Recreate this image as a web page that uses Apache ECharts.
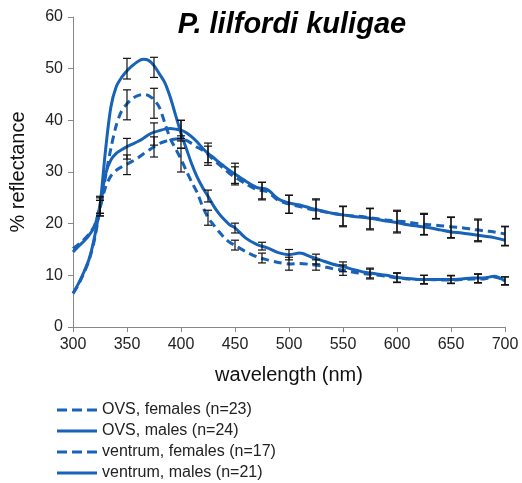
<!DOCTYPE html>
<html>
<head>
<meta charset="utf-8">
<script src="https://cdn.jsdelivr.net/npm/echarts@6/dist/echarts.min.js"></script>
<style>
  html, body { margin: 0; padding: 0; background: #fff; }
  #chart { width: 522px; height: 483px; }
</style>
</head>
<body>
<div id="chart"></div>
<script>
// wavelength (nm)
const wavelengths = [
  300, 305, 310, 315, 320, 325, 330, 335, 340, 345, 350, 355, 360, 365, 370, 375,
  380, 385, 390, 395, 400, 405, 410, 415, 420, 425, 430, 435, 440, 445, 450,
  460, 470, 480, 490, 500, 510, 520, 530, 540, 550, 560, 570, 580, 590, 600,
  610, 620, 630, 640, 650, 660, 670, 680, 690, 700
];

const ovsFemales = [
  6.5, 8.2, 10.4, 13, 17, 23, 29, 34.5, 39, 41.8, 43.2, 44.2, 44.8, 45, 44.8, 44,
  42.5, 39.5, 36.5, 34.5, 32.5, 30.2, 28, 26, 23.3, 21.2, 19.8, 18.5, 17.3, 16.4, 15.8,
  14.6, 13.6, 13, 12.5, 12.2, 12.3, 12.1, 11.8, 11.3, 11, 10.6, 10.3, 10.1, 9.8, 9.5,
  9.3, 9.2, 9.2, 9.1, 9.1, 9.2, 9.3, 9.3, 9.7, 9.0
];
const ovsMales = [
  6.5, 8.4, 10.6, 13.2, 17.5, 23.5, 34, 42.5, 46.5, 48.3, 49.6, 50.6, 51.4, 51.8, 51.6, 50.6,
  49, 47.3, 44.5, 41, 37.5, 34.5, 31.5, 29, 27, 25.3, 23.5, 22, 20.8, 19.8, 19.2,
  17.2, 16, 15.3, 14.4, 14, 14.3, 13.6, 12.9, 12.2, 11.7, 11.1, 10.6, 10.3, 10, 9.6,
  9.4, 9.2, 9.2, 9.2, 9.2, 9.3, 9.5, 9.5, 9.8, 8.9
];
const ventrumFemales = [
  15.2, 16, 16.9, 18, 19.7, 23, 27, 29.2, 30.3, 31, 31.5, 32.1, 32.7, 33.5, 34.2, 34.9,
  35.5, 35.9, 36.2, 36.4, 36.4, 36.1, 35.5, 34.8, 34.2, 33.4, 32.4, 31.5, 30.6, 29.7, 29,
  27.7, 26.6, 26.2, 24.5, 23.8, 23.3, 22.8, 22.4, 22, 21.7, 21.5, 21.3, 21, 20.7, 20.5,
  20.3, 20, 19.8, 19.6, 19.4, 19.2, 18.9, 18.6, 18.4, 18
];
const ventrumMales = [
  14.5, 15.6, 16.6, 17.8, 19.5, 23.5, 29.5, 32.3, 33.6, 34.3, 34.9, 35.4, 35.9, 36.5, 37.2, 37.7,
  38, 38.3, 38.4, 38.3, 38.1, 37.6, 36.8, 35.8, 34.6, 33.6, 32.8, 31.9, 31.1, 30.3, 29.6,
  28.2, 27, 26.6, 24.8, 24, 23.6, 23, 22.5, 22, 21.7, 21.4, 21.2, 20.9, 20.5, 20.2,
  19.8, 19.5, 19.2, 18.8, 18.4, 18.2, 17.9, 17.6, 17.3, 16.8
];

// error bars every 25 nm: lower / upper ends
const errWavelengths = [325, 350, 375, 400, 425, 450, 475, 500, 525, 550, 575, 600, 625, 650, 675, 700];
const ovsFemalesLow  = [21.5, 40.1, 40.4, 30, 19.7, 14.9, 12.4, 11, 11, 10, 9.3, 8.6, 8.3, 8.4, 8.5, 8.2];
const ovsFemalesHigh = [24.5, 45.9, 46.2, 34.6, 22.6, 16.8, 14.3, 13.5, 13, 12, 11.2, 10.4, 10, 9.9, 10.2, 9.7];
const ovsMalesLow    = [22, 48, 48.3, 36, 24.2, 18.2, 14.9, 13, 12.2, 10.7, 9.5, 8.7, 8.4, 8.5, 8.6, 8.1];
const ovsMalesHigh   = [25.3, 52, 52.2, 40, 26.5, 20.1, 16.4, 15, 14.1, 12.6, 11.4, 10.5, 10, 10, 10.3, 9.7];
const ventrumFemalesLow  = [21.5, 29.5, 32.9, 34.6, 31.3, 27.5, 24.8, 22, 20.9, 19.4, 18.8, 18.2, 17.8, 17.2, 16.5, 15.7];
const ventrumFemalesHigh = [24.5, 33.3, 36.8, 37, 35, 31, 28, 25.5, 24.8, 23.4, 23, 22.6, 22, 21.3, 20.9, 19.5];
const ventrumMalesLow    = [22, 32.5, 35.2, 36.5, 31.8, 27.8, 24.6, 22, 21, 19.6, 19, 18.4, 17.9, 17.3, 16.7, 15.8];
const ventrumMalesHigh   = [25, 36.5, 39.5, 40, 35.6, 31.7, 28, 25.5, 24.6, 23.3, 22.9, 22.4, 21.8, 21.2, 20.7, 19.4];

const seriesNames = [
  'OVS, females (n=23)',
  'OVS, males (n=24)',
  'ventrum, females (n=17)',
  'ventrum, males (n=21)'
];

const blue = '#1862b8';
const font = 'Liberation Sans, Arial, sans-serif';
// legend keys: a short dashed bar and a plain bar
const dashIcon = 'path://M0,0h10v3h-10z M15,0h10v3h-10z M30,0h10v3h-10z';
const solidIcon = 'path://M0,0h40v3h-40z';

function pairs(ys) {
  return wavelengths.map((x, i) => [x, ys[i]]);
}

function errData(lows, highs) {
  return errWavelengths.map((x, i) => [x, lows[i], highs[i]]);
}

function lineSeries(name, ys, dashed) {
  return {
    name: name,
    type: 'line',
    data: pairs(ys),
    smooth: 0.3,
    symbol: 'none',
    z: 2,
    lineStyle: { color: blue, width: 3, type: dashed ? [8, 5] : 'solid' },
    itemStyle: { color: blue }
  };
}

function errorSeries(lows, highs) {
  return {
    type: 'custom',
    data: errData(lows, highs),
    z: 5,
    silent: true,
    renderItem(params, api) {
      const x = api.value(0);
      const lo = api.coord([x, api.value(1)]);
      const hi = api.coord([x, api.value(2)]);
      const w = 4;
      const style = { stroke: '#111', lineWidth: 1.2 };
      return {
        type: 'group',
        children: [
          { type: 'line', shape: { x1: lo[0], y1: lo[1], x2: hi[0], y2: hi[1] }, style },
          { type: 'line', shape: { x1: lo[0] - w, y1: lo[1], x2: lo[0] + w, y2: lo[1] }, style },
          { type: 'line', shape: { x1: hi[0] - w, y1: hi[1], x2: hi[0] + w, y2: hi[1] }, style }
        ]
      };
    }
  };
}

const chart = echarts.init(document.getElementById('chart'), null, { renderer: 'canvas' });

chart.setOption({
  backgroundColor: '#fff',
  animation: false,
  title: {
    text: 'P. lilfordi kuligae',
    left: 287,
    textAlign: 'center',
    top: 5,
    textStyle: {
      fontFamily: font,
      fontSize: 29,
      fontWeight: 'bold',
      fontStyle: 'italic',
      color: '#000'
    }
  },
  legend: {
    orient: 'vertical',
    left: 57,
    top: 402,
    height: 81,
    padding: 0,
    itemWidth: 40,
    itemHeight: 3,
    itemGap: 5,
    data: [
      { name: seriesNames[0], icon: dashIcon },
      { name: seriesNames[1], icon: solidIcon },
      { name: seriesNames[2], icon: dashIcon },
      { name: seriesNames[3], icon: solidIcon }
    ],
    textStyle: {
      fontFamily: font,
      fontSize: 16,
      color: '#222'
    }
  },
  grid: { left: 72, right: 17, top: 17, bottom: 156 },
  xAxis: {
    type: 'value',
    min: 300,
    max: 700,
    interval: 50,
    name: 'wavelength (nm)',
    nameLocation: 'middle',
    nameGap: 38,
    nameTextStyle: { fontFamily: font, fontSize: 20, color: '#111' },
    axisLine: { lineStyle: { color: '#888', width: 1 } },
    axisTick: { show: true, length: 5, lineStyle: { color: '#888' } },
    axisLabel: { fontFamily: font, fontSize: 16, color: '#222', margin: 10 },
    splitLine: { show: false }
  },
  yAxis: {
    type: 'value',
    min: 0,
    max: 60,
    interval: 10,
    name: '% reflectance',
    nameLocation: 'middle',
    nameGap: 45,
    nameTextStyle: { fontFamily: font, fontSize: 20, color: '#111' },
    axisLine: { show: true, lineStyle: { color: '#888', width: 1 } },
    axisTick: { show: true, length: 5, lineStyle: { color: '#888' } },
    axisLabel: { fontFamily: font, fontSize: 16, color: '#222', margin: 10 },
    splitLine: { show: false }
  },
  series: [
    lineSeries(seriesNames[0], ovsFemales, true),
    lineSeries(seriesNames[1], ovsMales, false),
    lineSeries(seriesNames[2], ventrumFemales, true),
    lineSeries(seriesNames[3], ventrumMales, false),
    errorSeries(ovsFemalesLow, ovsFemalesHigh),
    errorSeries(ovsMalesLow, ovsMalesHigh),
    errorSeries(ventrumFemalesLow, ventrumFemalesHigh),
    errorSeries(ventrumMalesLow, ventrumMalesHigh)
  ]
});
</script>
</body>
</html>
